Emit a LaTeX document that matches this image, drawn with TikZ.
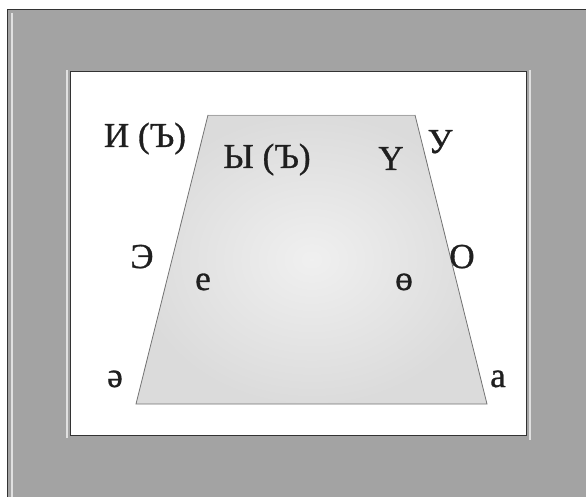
\documentclass[tikz,border=0pt]{standalone}
\usepackage{fontspec}
\setmainfont{Liberation Serif}
\newfontfamily\lblfont[FakeBold=0.9]{Liberation Serif}
\begin{document}
\begin{tikzpicture}[x=1pt,y=-1pt,
  lbl/.style={inner sep=0pt,anchor=base,font=\lblfont\fontsize{35}{40}\selectfont,text=black!88},
  matgray/.style={fill=black!36},
  edge/.style={draw=black!55,line width=0.8pt},
  hilite/.style={draw=white!88!black,line width=2pt},
  darkline/.style={draw=black!80,line width=1pt}]
\useasboundingbox (0,0) rectangle (586,497);
% outer mat
\fill[white] (0,0) rectangle (586,497);
\fill[matgray] (7,10) rectangle (586,497);
\draw[darkline] (586,10) -- (7,10) -- (7,497);
\draw[hilite] (11.5,13) -- (11.5,497);
% inner panel
\draw[hilite] (66.5,70) -- (66.5,438);
\draw[hilite] (529.5,70) -- (529.5,440);
\fill[white] (70,72) rectangle (526,435);
\draw[darkline] (70,72) rectangle (526,435);
% trapezoid
\coordinate (tl) at (208,115);
\coordinate (tr) at (415,115);
\coordinate (br) at (487,404);
\coordinate (bl) at (136,404);
\shade[inner color=black!6,outer color=black!14] (tl) -- (tr) -- (br) -- (bl) -- cycle;
\draw[edge,draw=black!35] (tl) -- (tr);
\draw[edge] (tr) -- (br) -- (bl) -- (tl);
% labels
\node[lbl] (i) at (145,147) {И (Ъ)};
\node[lbl] (y) at (267,168) {Ы (Ъ)};
\node[lbl] (ue) at (391,170) {Ү};
\node[lbl] (u) at (440,153) {У};
\node[lbl] (e) at (142,268) {Э};
\node[lbl] (ee) at (203,290) {е};
\node[lbl] (oe) at (404,290) {ө};
\node[lbl] (o) at (462,268) {О};
\node[lbl] (schwa) at (115,387) {ә};
\node[lbl] (a) at (498,387) {а};
\end{tikzpicture}
\end{document}
